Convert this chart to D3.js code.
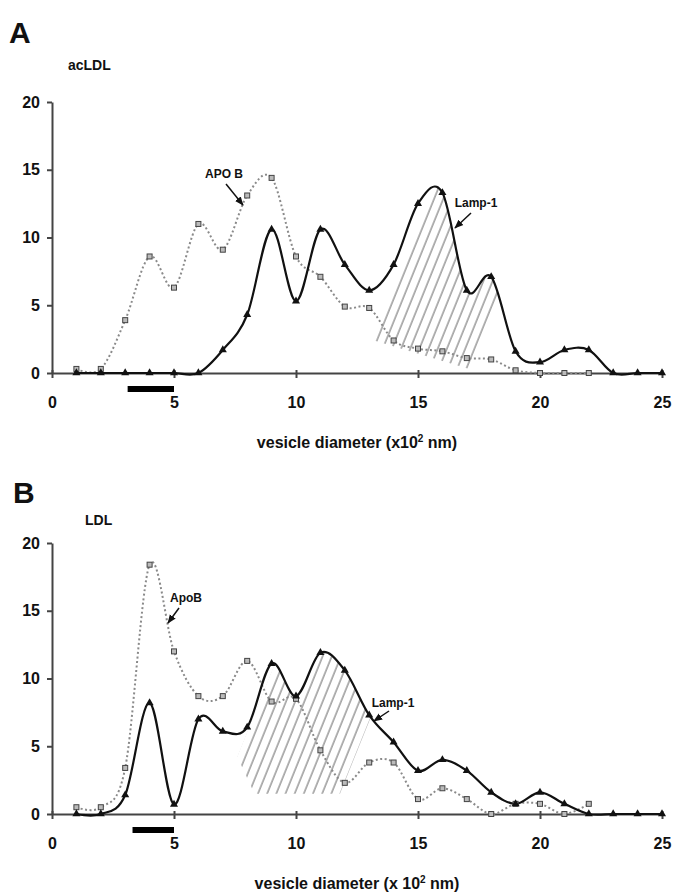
<!DOCTYPE html>
<html>
<head>
<meta charset="utf-8">
<script src="https://cdn.jsdelivr.net/npm/d3@7"></script>
<style>
  body { margin: 0; background: #fff; }
  svg text { font-family: "Liberation Sans Narrow", "Arial Narrow", "Liberation Sans", sans-serif; font-weight: bold; fill: #111; }
</style>
</head>
<body>
<svg id="chart" width="673" height="895"></svg>
<script>
// diameters (x10^2 nm)
const diameters = [1, 2, 3, 4, 5, 6, 7, 8, 9, 10, 11, 12, 13, 14, 15, 16, 17, 18, 19, 20, 21, 22, 23, 24, 25];

// panel A (acLDL)
const apoB_A = [0.3, 0.3, 3.9, 8.6, 6.3, 11.0, 9.1, 13.1, 14.4, 8.6, 7.1, 4.9, 4.8, 2.4, 1.8, 1.6, 1.1, 1.0, 0.2, 0, 0, 0];
const lamp_A = [0, 0, 0, 0, 0, 0, 1.7, 4.3, 10.6, 5.3, 10.6, 8.0, 6.1, 8.0, 12.5, 13.3, 6.1, 7.1, 1.6, 0.8, 1.7, 1.7, 0, 0, 0];

// panel B (LDL)
const apoB_B = [0.5, 0.5, 3.4, 18.4, 12.0, 8.7, 8.7, 11.3, 8.3, 8.5, 4.7, 2.3, 3.8, 3.8, 1.1, 1.9, 1.1, 0, 0.75, 0.75, 0, 0.75];
const lamp_B = [0, 0, 1.4, 8.2, 0.7, 7.0, 6.1, 6.4, 11.1, 8.7, 11.9, 10.6, 7.3, 5.3, 3.2, 4.0, 3.2, 1.6, 0.75, 1.6, 0.75, 0, 0, 0, 0];

// hatched area: lower edge of the hatching, in data units
const hatchA = [[13.2, 2.4], [17.1, 0.3]];
const hatchB = [[7.6, 4.2], [8.3, 1.5], [11.8, 1.5]];

// black bar under the x axis (range of diameters)
const barA = [3.1, 5.0];
const barB = [3.3, 5.0];

const xTicks = [0, 5, 10, 15, 20, 25];
const yTicks = [0, 5, 10, 15, 20];

const svg = d3.select("#chart");
const x = d3.scaleLinear().domain([0, 25]).range([52, 662]);
const hatchAngle = 22; // degrees from vertical

const defs = svg.append("defs");
defs.append("pattern")
  .attr("id", "hatch")
  .attr("patternUnits", "userSpaceOnUse")
  .attr("width", 8.5).attr("height", 8.5)
  .attr("patternTransform", `rotate(${hatchAngle})`)
  .append("line")
  .attr("x1", 1).attr("y1", 0).attr("x2", 1).attr("y2", 8.5)
  .attr("stroke", "#666").attr("stroke-width", 1);

defs.append("marker")
  .attr("id", "arrow")
  .attr("viewBox", "0 0 10 10")
  .attr("refX", 9).attr("refY", 5)
  .attr("markerWidth", 6).attr("markerHeight", 6)
  .attr("orient", "auto")
  .append("path")
  .attr("d", "M0,1 L10,5 L0,9 Z")
  .attr("fill", "#111");

function drawPanel(opt) {
  const y = d3.scaleLinear().domain([0, 20]).range([opt.y0, opt.y0 - 271]);
  const g = svg.append("g");
  const curve = d3.curveCardinal.tension(0);

  // letter + subtitle
  g.append("text").attr("x", opt.letterX).attr("y", opt.letterY)
    .style("font-family", "'Liberation Sans', Arial, sans-serif")
    .style("font-size", "30px").text(opt.letter);
  g.append("text").attr("x", opt.subX).attr("y", opt.subY)
    .style("font-size", "14px").text(opt.sub);

  // hatched region, clipped under the Lamp-1 curve
  const lampPts = opt.lamp.map((v, i) => [diameters[i], v]);
  const areaGen = d3.area().x(d => x(d[0])).y0(y(0)).y1(d => y(d[1])).curve(curve);
  const clipArea = defs.append("clipPath").attr("id", "area" + opt.letter);
  clipArea.append("path").attr("d", areaGen(lampPts));

  const t = Math.tan(hatchAngle * Math.PI / 180);
  const bottom = opt.hatch.map(d => [x(d[0]), y(d[1])]);
  const topY = y(20);
  const first = bottom[0], last = bottom[bottom.length - 1];
  const poly = bottom.concat([
    [last[0] + (last[1] - topY) * t, topY],
    [first[0] + (first[1] - topY) * t, topY]
  ]);
  const clipPoly = defs.append("clipPath").attr("id", "poly" + opt.letter);
  clipPoly.append("polygon").attr("points", poly.map(p => p.join(",")).join(" "));

  g.append("g").attr("clip-path", `url(#area${opt.letter})`)
    .append("rect")
    .attr("clip-path", `url(#poly${opt.letter})`)
    .attr("x", x(0)).attr("y", topY)
    .attr("width", x(25) - x(0)).attr("height", y(0) - topY)
    .attr("fill", "url(#hatch)");

  // axes
  const yAxis = g.append("g").attr("transform", `translate(${x(0)},0)`)
    .call(d3.axisLeft(y).tickValues(yTicks).tickSize(5).tickSizeOuter(0).tickFormat(d3.format("d")));
  yAxis.select(".domain").attr("stroke", "#444").attr("stroke-width", 2);
  yAxis.selectAll(".tick line").attr("stroke", "#444").attr("stroke-width", 2);
  yAxis.selectAll(".tick text").attr("x", -12).style("font-size", "16px");

  const xAxis = g.append("g").attr("transform", `translate(0,${y(0)})`)
    .call(d3.axisBottom(x).tickValues(xTicks).tickSize(5).tickSizeOuter(0).tickFormat(d3.format("d")));
  xAxis.select(".domain").attr("stroke", "#444").attr("stroke-width", 2);
  xAxis.selectAll(".tick line").attr("stroke", "#444").attr("stroke-width", 2).attr("y1", -3);
  xAxis.selectAll(".tick text").attr("y", 24).style("font-size", "16px");

  // x axis title
  const title = g.append("text").attr("x", 357).attr("y", y(0) + 75)
    .attr("text-anchor", "middle").style("font-size", "16px");
  title.append("tspan").text(opt.titlePre);
  title.append("tspan").attr("dy", -6).style("font-size", "10px").text("2");
  title.append("tspan").attr("dy", 6).text(" nm)");

  // bar
  g.append("line")
    .attr("x1", x(opt.bar[0])).attr("x2", x(opt.bar[1]))
    .attr("y1", y(0) + 16).attr("y2", y(0) + 16)
    .attr("stroke", "#000").attr("stroke-width", 6);

  // ApoB dotted
  const apoPts = opt.apoB.map((v, i) => [diameters[i], v]);
  const line = d3.line().x(d => x(d[0])).y(d => y(d[1])).curve(curve);
  g.append("path").attr("d", line(apoPts))
    .attr("fill", "none").attr("stroke", "#8a8a8a")
    .attr("stroke-width", 2).attr("stroke-dasharray", "2,2.5");

  // Lamp-1 solid
  g.append("path").attr("d", line(lampPts))
    .attr("fill", "none").attr("stroke", "#111").attr("stroke-width", 2.2);

  g.selectAll(".sq").data(apoPts).enter().append("rect")
    .attr("x", d => x(d[0]) - 2.5).attr("y", d => y(d[1]) - 2.5)
    .attr("width", 5).attr("height", 5)
    .attr("fill", "#bbb").attr("stroke", "#444").attr("stroke-width", 1);

  g.selectAll(".tri").data(lampPts).enter().append("path")
    .attr("transform", d => `translate(${x(d[0])},${y(d[1])})`)
    .attr("d", d3.symbol().type(d3.symbolTriangle).size(28))
    .attr("fill", "#111");

  // annotations
  opt.notes.forEach(n => {
    g.append("text").attr("x", n.tx).attr("y", n.ty)
      .attr("text-anchor", "middle").style("font-size", "12px").text(n.text);
    g.append("line")
      .attr("x1", n.a[0]).attr("y1", n.a[1]).attr("x2", n.a[2]).attr("y2", n.a[3])
      .attr("stroke", "#111").attr("stroke-width", 1.5)
      .attr("marker-end", "url(#arrow)");
  });
}

drawPanel({
  letter: "A", letterX: 9, letterY: 43,
  sub: "acLDL", subX: 68, subY: 70,
  y0: 373,
  apoB: apoB_A, lamp: lamp_A, hatch: hatchA, bar: barA,
  titlePre: "vesicle diameter (x10",
  notes: [
    { text: "APO B", tx: 224, ty: 178, a: [226, 184, 243, 205] },
    { text: "Lamp-1", tx: 476, ty: 207, a: [471, 213, 455, 228] }
  ]
});

drawPanel({
  letter: "B", letterX: 13, letterY: 503,
  sub: "LDL", subX: 85, subY: 525,
  y0: 814,
  apoB: apoB_B, lamp: lamp_B, hatch: hatchB, bar: barB,
  titlePre: "vesicle diameter (x 10",
  notes: [
    { text: "ApoB", tx: 186, ty: 602, a: [179, 608, 168, 623] },
    { text: "Lamp-1", tx: 393, ty: 707, a: [389, 711, 374, 721] }
  ]
});
</script>
</body>
</html>
